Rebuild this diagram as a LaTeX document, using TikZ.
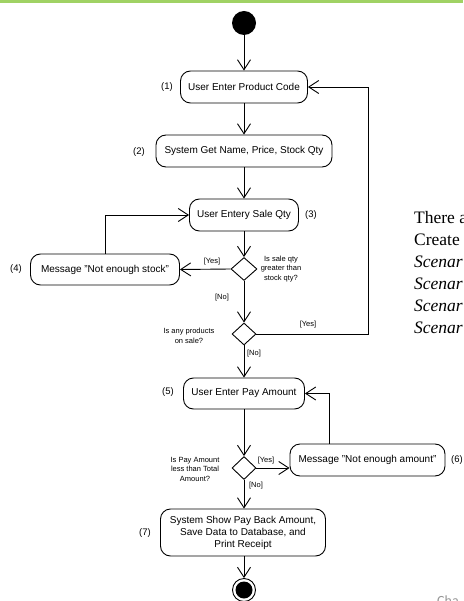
\documentclass[tikz,border=0pt]{standalone}
\usepackage{fontspec}
\setmainfont{Liberation Sans}
\newfontfamily\notefont{Liberation Serif}
\newfontfamily\footfont{Carlito}
\usetikzlibrary{shapes.geometric,arrows.meta}
\definecolor{topbar}{RGB}{160,210,100}
\definecolor{footgray}{RGB}{150,150,150}

\begin{document}
\begin{tikzpicture}[x=1pt,y=-1pt,
  act/.style={draw, rounded corners=10pt, line width=0.9pt, inner sep=2pt,
    font=\fontsize{10}{12}\selectfont, align=center},
  dec/.style={draw, diamond, line width=0.9pt, inner sep=0pt,
    minimum width=26pt, minimum height=23pt},
  flow/.style={line width=0.9pt,
    -{Straight Barb[length=10pt,width=13pt,line width=0.9pt]}},
  lbl/.style={font=\fontsize{7.5}{9.5}\selectfont, align=center, inner sep=0pt},
  num/.style={font=\fontsize{9.5}{11}\selectfont, inner sep=0pt},
  note/.style={font=\notefont\fontsize{17.5}{20}\selectfont, anchor=west, inner sep=0pt}]

\useasboundingbox (0,0) rectangle (463,601);

% header rule
\fill[topbar] (0,0) rectangle (463,2.6);

% start / end
\node[circle, fill=black, minimum size=24pt, inner sep=0pt] (start) at (244,23) {};
\node[circle, draw, line width=0.9pt, minimum size=23pt, inner sep=0pt] (stop) at (244,590) {};
\fill (stop.center) circle (8.5pt);

% activities
\node[act, minimum width=127pt, minimum height=32pt] (n1) at (244,87) {User Enter Product Code};
\node[act, minimum width=176pt, minimum height=32pt] (n2) at (244,151) {System Get Name, Price, Stock Qty};
\node[act, minimum width=109pt, minimum height=32pt] (n3) at (244,215) {User Entery Sale Qty};
\node[act, minimum width=149pt, minimum height=31pt] (n4) at (105,269.5) {Message "Not enough stock"};
\node[act, minimum width=121pt, minimum height=31pt] (n5) at (244,393.5) {User Enter Pay Amount};
\node[act, minimum width=155pt, minimum height=32pt] (n6) at (367.5,460) {Message "Not enough amount"};
\node[act, minimum width=165pt, minimum height=47pt] (n7) at (243,532.5)
  {System Show Pay Back Amount,\\Save Data to Database, and\\Print Receipt};

% decisions
\node[dec] (d1) at (244,269) {};
\node[dec, minimum width=24pt, minimum height=22pt] (d2) at (244,334) {};
\node[dec, minimum width=24pt, minimum height=23pt] (d3) at (244,468) {};

% step numbers
\node[num] (k1) at (167,87) {(1)};
\node[num] (k2) at (139,152) {(2)};
\node[num] (k3) at (311,215) {(3)};
\node[num] (k4) at (16,269) {(4)};
\node[num] (k5) at (168,392) {(5)};
\node[num] (k6) at (457,460) {(6)};
\node[num] (k7) at (145,533) {(7)};

% guard questions
\node[lbl] (q1) at (281,269) {Is sale qty\\greater than\\stock qty?};
\node[lbl] (q2) at (189,336) {Is any products\\on sale?};
\node[lbl] (q3) at (195,469) {Is Pay Amount\\less than Total\\Amount?};

% guards
\node[lbl] (g1) at (212,262) {[Yes]};
\node[lbl] (g2) at (222,298) {[No]};
\node[lbl] (g3) at (308,325) {[Yes]};
\node[lbl] (g4) at (254,354) {[No]};
\node[lbl] (g5) at (266,461) {[Yes]};
\node[lbl] (g6) at (256,486) {[No]};

% bend points
\coordinate (loopx) at (368,0);
\coordinate (backx) at (329,0);

% flows
\draw[flow] (start) -- (n1);
\draw[flow] (n1) -- (n2);
\draw[flow] (n2) -- (n3);
\draw[flow] (n3) -- (d1.north);
\draw[flow] (d1.west) -- (n4.east);
\draw[flow] (n4.north) |- (n3.west);
\draw[flow] (d1.south) -- (d2.north);
\draw[flow] (d2.east) -- (d2.east -| loopx) |- (n1.east);
\draw[flow] (d2.south) -- (n5.north);
\draw[flow] (n5.south) -- (d3.north);
\draw[flow] (d3.east) -- (d3.east -| n6.west);
\draw[flow] (n6.north -| backx) |- (n5.east);
\draw[flow] (d3.south) -- (d3.south |- n7.north);
\draw[flow] (n7.south -| stop) -- (stop.north);

% side text, cut at the page edge
\begin{scope}
\clip (0,0) rectangle (463,601);
\node[note] (t1) at (414,218) {There a};
\node[note] (t2) at (414,240) {Create};
\node[note] (t3) at (414,262) {\itshape Scenar};
\node[note] (t4) at (414,284) {\itshape Scenar};
\node[note] (t5) at (414,306) {\itshape Scenar};
\node[note] (t6) at (414,328) {\itshape Scenar};
\node[font=\footfont\fontsize{14}{16}\selectfont, text=footgray, anchor=base west, inner sep=0pt] (ft) at (437,605) {Cha};
\end{scope}
\end{tikzpicture}
\end{document}
